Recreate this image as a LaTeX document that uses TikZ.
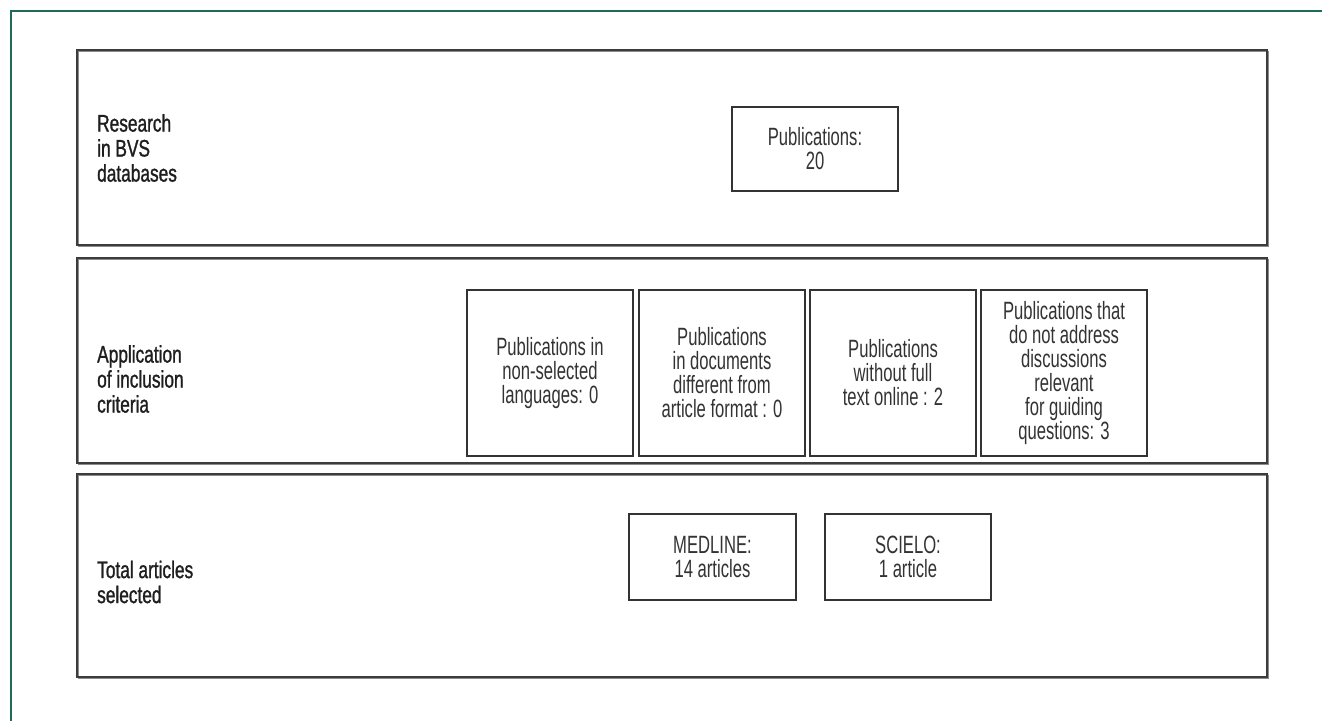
\documentclass[tikz,border=0pt]{standalone}
\usepackage{fontspec}
\setmainfont{Liberation Sans}[FakeStretch=0.665]
\newfontfamily\labelfont{Liberation Sans}[FakeStretch=0.72,FakeBold=1.1]
\begin{document}
\begin{tikzpicture}[x=1pt,y=-1pt,
  frame/.style={draw=framegreen,line width=1.6pt},
  stage/.style={draw=stageline,line width=1.6pt,minimum width=1190pt,inner sep=0pt,
     shape=rectangle},
  stagelabel/.style={anchor=west,align=left,inner sep=0pt,text=labeltext,
     font=\labelfont\fontsize{24}{25}\selectfont},
  ibox/.style={draw=boxline,line width=1.3pt,align=center,inner sep=0pt,text=boxtext,
     font=\fontsize{25}{24}\selectfont}]
\definecolor{framegreen}{HTML}{1E6B5C}
\definecolor{stageline}{HTML}{3C3C3C}
\definecolor{boxline}{HTML}{333333}
\definecolor{labeltext}{HTML}{1E1E1E}
\definecolor{boxtext}{HTML}{333333}
\useasboundingbox (0,0) rectangle (1322,720);
\fill[white] (0,0) rectangle (1322,720);
% green frame
\coordinate (fb) at (11,730);
\coordinate (fc) at (11,11);
\coordinate (fr) at (1330,11);
\draw[frame] (fb) -- (fc) -- (fr);
% stage boxes with slight shadow
\foreach \t/\b in {50/245,258/463,474/677}{
  \draw[line width=1.6pt,draw=black!45] (78.5,\t+1.5) rectangle (1268.5,\b+1.5);
}
\node[stage,minimum height=195pt] (s1) at (672,147.5) {};
\node[stage,minimum height=205pt] (s2) at (672,360.5) {};
\node[stage,minimum height=203pt] (s3) at (672,575.5) {};
% labels
\node[stagelabel] (l1) at (97,148) {Research\\in BVS\\databases};
\node[stagelabel] (l2) at (97,379) {Application\\of inclusion\\criteria};
\node[stagelabel] (l3) at (97,582) {Total articles\\selected};
% boxes
\node[ibox,minimum width=166pt,minimum height=84pt] (pub) at (815,149) {Publications:\\20};
\node[ibox,minimum width=166pt,minimum height=166pt] (ca) at (550,373) {Publications in\\non-selected\\languages: 0};
\node[ibox,minimum width=166pt,minimum height=166pt] (cb) at (722,373) {Publications\\in documents\\different from\\article format : 0};
\node[ibox,minimum width=166pt,minimum height=166pt] (cc) at (893,373) {Publications\\without full\\text online : 2};
\node[ibox,minimum width=166pt,minimum height=166pt] (cd) at (1064,373) {Publications that\\do not address\\discussions\\relevant\\for guiding\\questions: 3};
\node[ibox,minimum width=167pt,minimum height=86pt] (med) at (712.5,557) {MEDLINE:\\14 articles};
\node[ibox,minimum width=166pt,minimum height=86pt] (sci) at (908,557) {SCIELO:\\1 article};
\end{tikzpicture}
\end{document}
